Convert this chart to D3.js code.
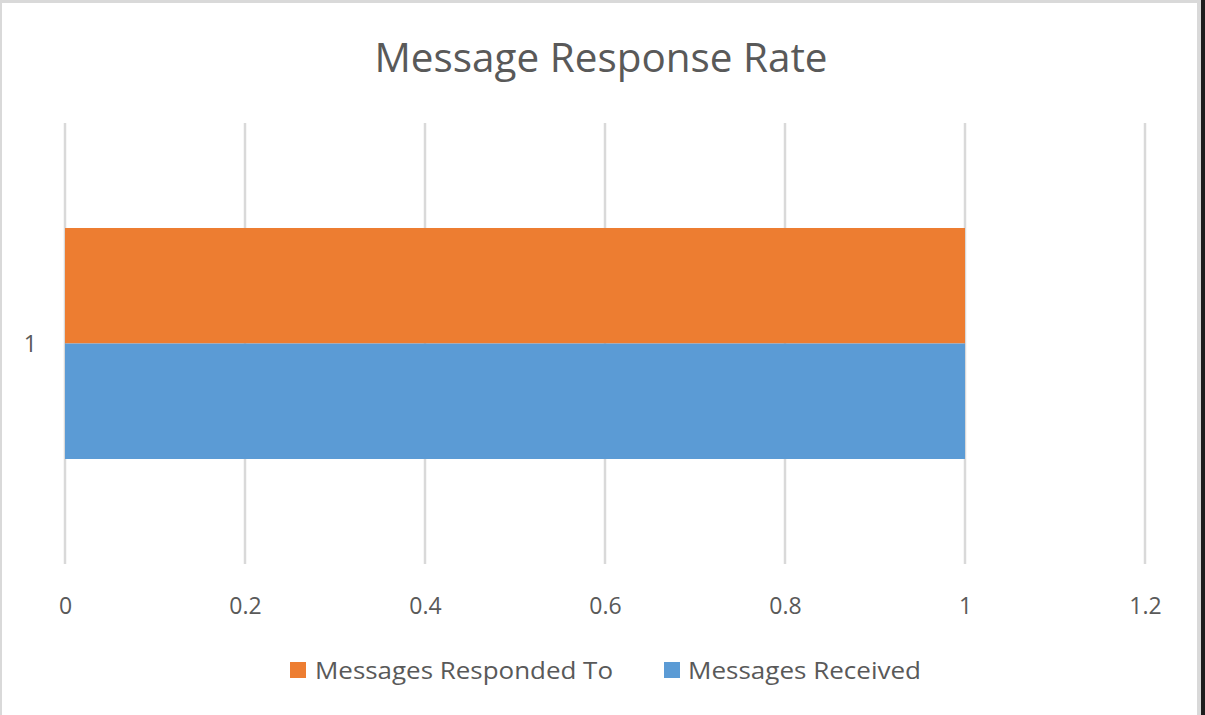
<!DOCTYPE html>
<html><head><meta charset="utf-8">
<script src="https://cdn.jsdelivr.net/npm/d3@7"></script>
<style>
html,body{margin:0;padding:0;background:#fff;}
svg{display:block;}
text{font-family:"Open Sans","Liberation Sans",sans-serif;fill:#595959;}
</style></head>
<body>
<svg id="c" width="1205" height="715"></svg>
<script>
const title = "Message Response Rate";
const categories = ["1"];
const seriesNames = ["Messages Responded To", "Messages Received"];
const seriesColors = ["#ED7D31", "#5B9BD5"];
const respondedValues = [1];
const receivedValues = [1];
const xTicks = [0, 0.2, 0.4, 0.6, 0.8, 1, 1.2];

const svg = d3.select("#c");
// frame
svg.append("rect").attr("x",0).attr("y",0).attr("width",1205).attr("height",715).attr("fill","#fff");
svg.append("rect").attr("x",0).attr("y",0).attr("width",1205).attr("height",3).attr("fill","#d9d9d9");
svg.append("rect").attr("x",0).attr("y",0).attr("width",2).attr("height",715).attr("fill","#d9d9d9");
svg.append("rect").attr("x",1197).attr("y",0).attr("width",4).attr("height",715).attr("fill","#d9d9d9");
svg.append("rect").attr("x",1201).attr("y",0).attr("width",4).attr("height",715).attr("fill","#1e1e1e");

const plot = {left:65, right:1145, top:123, bottom:564};
const x = d3.scaleLinear().domain([0,1.2]).range([plot.left, plot.right]);
const y = d3.scaleBand().domain(categories).range([plot.top, plot.bottom]).paddingInner(0).paddingOuter(0.4545);
const ySub = d3.scaleBand().domain(seriesNames).range([0, y.bandwidth()]);

// gridlines
svg.append("g").selectAll("line").data(xTicks).join("line")
  .attr("x1", d=>x(d)).attr("x2", d=>x(d))
  .attr("y1", plot.top).attr("y2", plot.bottom)
  .attr("stroke","#d9d9d9").attr("stroke-width",2.5);

// bars
const data = categories.map((c,i)=>({cat:c, vals:[respondedValues[i], receivedValues[i]]}));
const g = svg.append("g");
data.forEach(d=>{
  d.vals.forEach((v,j)=>{
    g.append("rect")
      .attr("x", x(0)).attr("y", y(d.cat)+ySub(seriesNames[j]))
      .attr("width", x(v)-x(0)).attr("height", ySub.bandwidth())
      .attr("fill", seriesColors[j]);
  });
});

// x axis labels
const xAxis = d3.axisBottom(x).tickValues(xTicks).tickSize(0).tickPadding(0).tickFormat(d=>String(d));
const ax = svg.append("g").attr("transform",`translate(0,${plot.bottom})`).call(xAxis);
ax.select(".domain").remove();
ax.selectAll("text").attr("dy",null).attr("y",50).attr("font-size",23).attr("fill","#595959")
  .style("font-family",'"Open Sans","Liberation Sans",sans-serif');

// y axis labels
const yAxis = d3.axisLeft(y).tickSize(0).tickPadding(0);
const ay = svg.append("g").attr("transform",`translate(${plot.left},0)`).call(yAxis);
ay.select(".domain").remove();
ay.selectAll("text").attr("x",-28).attr("dy","0.35em").attr("font-size",23).attr("fill","#595959")
  .style("font-family",'"Open Sans","Liberation Sans",sans-serif');

// title
svg.append("text").attr("x",601).attr("y",72).attr("text-anchor","middle")
  .attr("font-size",41).attr("textLength",453).attr("lengthAdjust","spacingAndGlyphs").text(title);

// legend
const legendItems = [
  {name:seriesNames[0], color:seriesColors[0], sx:290, tx:315, tw:298},
  {name:seriesNames[1], color:seriesColors[1], sx:664, tx:688, tw:233}
];
const lg = svg.append("g");
legendItems.forEach(it=>{
  lg.append("rect").attr("x",it.sx).attr("y",662).attr("width",16).attr("height",16).attr("fill",it.color);
  lg.append("text").attr("x",it.tx).attr("y",679).attr("font-size",24)
    .attr("textLength",it.tw).attr("lengthAdjust","spacingAndGlyphs").text(it.name);
});
</script>
</body></html>
